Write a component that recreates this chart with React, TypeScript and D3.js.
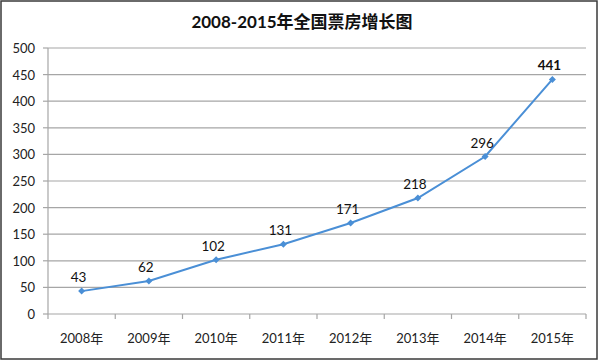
import { useMemo } from 'react'
import * as d3 from 'd3'

const WIDTH = 600
const HEIGHT = 361
const MARGIN = { top: 48, right: 14, bottom: 47, left: 48 }

const years = ['2008年', '2009年', '2010年', '2011年', '2012年', '2013年', '2014年', '2015年']
const boxOffice = [43, 62, 102, 131, 171, 218, 296, 441]
const yTicks = [0, 50, 100, 150, 200, 250, 300, 350, 400, 450, 500]

const FONT = 'Lato, "Noto Sans CJK SC", sans-serif'
const LINE_COLOR = '#4a8fd6'

const App = () => {
  const boundsWidth = WIDTH - MARGIN.left - MARGIN.right
  const boundsHeight = HEIGHT - MARGIN.top - MARGIN.bottom

  const xScale = useMemo(
    () => d3.scaleBand().domain(years).range([0, boundsWidth]).padding(0),
    [boundsWidth]
  )
  const yScale = useMemo(
    () => d3.scaleLinear().domain([0, 500]).range([boundsHeight, 0]),
    [boundsHeight]
  )

  const points = years.map((y, i) => ({
    x: (xScale(y) ?? 0) + xScale.bandwidth() / 2,
    y: yScale(boxOffice[i]),
    value: boxOffice[i],
  }))

  const linePath = d3
    .line<{ x: number; y: number }>()
    .x((d) => d.x)
    .y((d) => d.y)(points)

  // category boundaries for x tick marks
  const xBoundaries = years.map((y) => xScale(y) ?? 0).concat([boundsWidth])

  return (
    <svg
      width={WIDTH}
      height={HEIGHT}
      style={{ position: 'fixed', left: 0, top: 0, background: '#fff' }}
      fontFamily={FONT}
    >
      <rect x={1} y={1} width={WIDTH - 4} height={HEIGHT - 3} fill="#fff" stroke="#3a3a3a" strokeWidth={1.5} />
      <text x={302} y={28} textAnchor="middle" fontSize={17} fontWeight="bold" fill="#111">
        2008-2015年全国票房增长图
      </text>
      <g transform={`translate(${MARGIN.left},${MARGIN.top})`}>
        {yTicks.map((t) => (
          <g key={t}>
            {t > 0 && (
              <line x1={0} x2={boundsWidth} y1={yScale(t)} y2={yScale(t)} stroke="#a6a6a6" strokeWidth={1.2} />
            )}
            <line x1={-5} x2={0} y1={yScale(t)} y2={yScale(t)} stroke="#a6a6a6" strokeWidth={1.2} />
            <text
              x={-13}
              y={yScale(t)}
              textAnchor="end"
              dominantBaseline="central"
              fontSize={13}
              fill="#222"
            >
              {t}
            </text>
          </g>
        ))}
        <line x1={0} x2={0} y1={0} y2={boundsHeight} stroke="#a6a6a6" strokeWidth={1.2} />
        <line x1={0} x2={boundsWidth} y1={boundsHeight} y2={boundsHeight} stroke="#a6a6a6" strokeWidth={1.2} />
        {xBoundaries.map((x, i) => (
          <line key={i} x1={x} x2={x} y1={boundsHeight} y2={boundsHeight + 5} stroke="#a6a6a6" strokeWidth={1.2} />
        ))}
        {years.map((y) => (
          <text
            key={y}
            x={(xScale(y) ?? 0) + xScale.bandwidth() / 2}
            y={boundsHeight + 24}
            textAnchor="middle"
            dominantBaseline="central"
            fontSize={13}
            fill="#222"
          >
            {y}
          </text>
        ))}
        <path d={linePath ?? ''} fill="none" stroke={LINE_COLOR} strokeWidth={2} />
        {points.map((p, i) => (
          <g key={i}>
            <path
              d={`M${p.x},${p.y - 3.5}L${p.x + 3.5},${p.y}L${p.x},${p.y + 3.5}L${p.x - 3.5},${p.y}Z`}
              fill={LINE_COLOR}
            />
            <text
              x={p.x - 3}
              y={p.y - 9}
              textAnchor="middle"
              fontSize={13.5}
              fontWeight={i === points.length - 1 ? 'bold' : 'normal'}
              fill="#111"
            >
              {p.value}
            </text>
          </g>
        ))}
      </g>
    </svg>
  )
}

export default App
